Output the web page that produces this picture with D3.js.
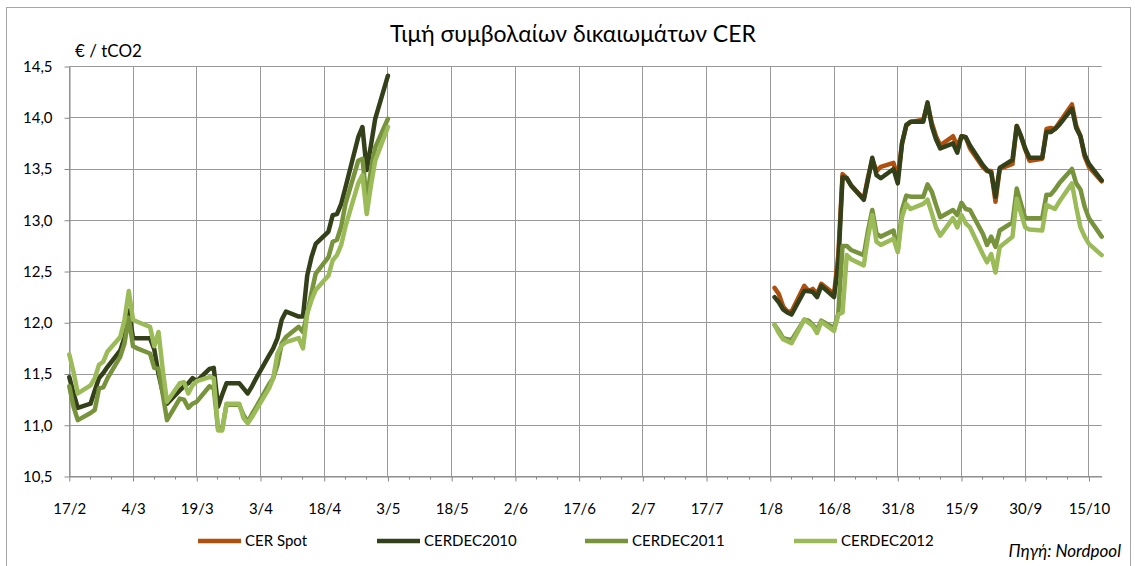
<!DOCTYPE html>
<html>
<head>
<meta charset="utf-8">
<script src="https://cdn.jsdelivr.net/npm/d3@7"></script>
<style>
  body { margin: 0; background: #fff; }
  svg text { font-family: Lato, "Open Sans", sans-serif; fill: #000; }
</style>
</head>
<body>
<div id="chart"></div>
<script>
// trading days, spring 2010
var dates1 = ["17/2","18/2","19/2","22/2","23/2","24/2","25/2","26/2",
  "1/3","2/3","3/3","4/3","5/3","8/3","9/3","10/3","11/3","12/3","15/3","16/3","17/3","18/3","19/3",
  "22/3","23/3","24/3","25/3","26/3","29/3","30/3","31/3",
  "1/4","2/4","5/4","6/4","7/4","8/4","9/4","12/4","13/4","14/4","15/4","16/4","19/4","20/4",
  "21/4","22/4","23/4","26/4","27/4","28/4","29/4","30/4","3/5"];

// trading days, late summer / autumn 2010
var dates2 = ["2/8","3/8","4/8","5/8","6/8","9/8","10/8","11/8","12/8","13/8","16/8","17/8","18/8",
  "19/8","20/8","23/8","24/8","25/8","26/8","27/8","30/8","31/8",
  "1/9","2/9","3/9","6/9","7/9","8/9","9/9","10/9","13/9","14/9","15/9","16/9","17/9","20/9",
  "21/9","22/9","23/9","24/9","27/9","28/9","29/9","30/9",
  "1/10","4/10","5/10","6/10","7/10","8/10","11/10","12/10","13/10","14/10","15/10","18/10"];

var dec10_1 = [11.47, 11.31, 11.17, 11.21, 11.34, 11.46, 11.51, 11.57,
  11.73, 11.86, 12.12, 11.85, 11.85, 11.85, 11.74, 11.50, 11.32, 11.21, 11.34, 11.38, 11.41, 11.46, 11.43,
  11.55, 11.56, 11.18, 11.30, 11.41, 11.41, 11.36, 11.31,
  11.38, 11.46, 11.68, 11.75, 11.85, 12.03, 12.11, 12.06, 12.06, 12.46, 12.64, 12.77, 12.89, 13.05,
  13.06, 13.16, 13.32, 13.81, 13.91, 13.49, 13.73, 13.99, 14.41];

var dec11_1 = [11.38, 11.18, 11.05, 11.12, 11.15, 11.36, 11.37, 11.46,
  11.67, 11.80, 12.05, 11.77, 11.75, 11.70, 11.56, 11.55, 11.30, 11.05, 11.26, 11.25, 11.17, 11.21, 11.23,
  11.38, 11.36, 10.97, 10.97, 11.20, 11.20, 11.10, 11.03,
  11.11, 11.18, 11.40, 11.46, 11.59, 11.80, 11.86, 11.96, 11.91, 12.09, 12.29, 12.48, 12.64, 12.79,
  12.81, 12.94, 13.16, 13.58, 13.60, 13.19, 13.49, 13.71, 13.99];

var dec12_1 = [11.69, 11.52, 11.31, 11.39, 11.46, 11.59, 11.62, 11.72,
  11.86, 12.03, 12.31, 12.03, 12.01, 11.96, 11.77, 11.91, 11.54, 11.23, 11.41, 11.42, 11.31, 11.39, 11.43,
  11.47, 11.46, 10.95, 10.95, 11.21, 11.21, 11.07, 11.02,
  11.08, 11.15, 11.36, 11.46, 11.70, 11.78, 11.81, 11.85, 11.75, 12.09, 12.22, 12.32, 12.46, 12.61,
  12.66, 12.76, 12.94, 13.36, 13.44, 13.06, 13.34, 13.58, 13.91];

var spot2 = [12.34, 12.28, 12.16, 12.11, 12.11, 12.36, 12.31, 12.33, 12.28, 12.38, 12.28, 12.66, 13.45,
  13.41, 13.34, 13.21, 13.42, 13.59, 13.48, 13.52, 13.56, 13.41,
  13.75, 13.92, 13.96, 13.98, 14.13, 13.95, 13.82, 13.73, 13.82, 13.72, 13.82, 13.81, 13.70, 13.52,
  13.48, 13.48, 13.18, 13.50, 13.55, 13.92, 13.82, 13.69,
  13.58, 13.60, 13.89, 13.90, 13.89, 13.95, 14.13, 13.92, 13.82, 13.62, 13.52, 13.38];

var dec10_2 = [12.25, 12.20, 12.13, 12.10, 12.08, 12.31, 12.31, 12.30, 12.25, 12.36, 12.25, 12.57, 13.42,
  13.41, 13.34, 13.20, 13.40, 13.61, 13.44, 13.41, 13.50, 13.36,
  13.75, 13.93, 13.96, 13.96, 14.15, 13.92, 13.79, 13.70, 13.75, 13.66, 13.82, 13.81, 13.73, 13.54,
  13.49, 13.46, 13.23, 13.51, 13.59, 13.92, 13.82, 13.70,
  13.61, 13.61, 13.86, 13.86, 13.89, 13.93, 14.09, 13.90, 13.82, 13.64, 13.55, 13.39];

var dec11_2 = [11.98, 11.92, 11.85, 11.84, 11.83, 12.03, 12.02, 11.98, 11.93, 12.02, 11.95, 12.09, 12.75,
  12.75, 12.71, 12.66, 12.90, 13.10, 12.87, 12.84, 12.90, 12.70,
  13.10, 13.24, 13.23, 13.23, 13.35, 13.28, 13.15, 13.03, 13.10, 13.05, 13.17, 13.11, 13.10, 12.87,
  12.76, 12.84, 12.74, 12.90, 12.98, 13.31, 13.16, 13.02,
  13.02, 13.02, 13.25, 13.25, 13.30, 13.36, 13.50, 13.36, 13.30, 13.13, 13.02, 12.84];

var dec12_2 = [11.98, 11.90, 11.84, 11.82, 11.80, 12.03, 12.00, 11.97, 11.90, 12.01, 11.92, 12.08, 12.10,
  12.66, 12.62, 12.56, 12.84, 13.05, 12.79, 12.76, 12.82, 12.69,
  13.03, 13.16, 13.11, 13.16, 13.20, 13.07, 12.93, 12.85, 13.02, 12.93, 13.05, 12.97, 12.93, 12.67,
  12.59, 12.67, 12.49, 12.74, 12.84, 13.21, 13.07, 12.93,
  12.91, 12.90, 13.15, 13.13, 13.11, 13.18, 13.36, 13.13, 12.93, 12.84, 12.77, 12.66];

var seriesNames = ["CER Spot", "CERDEC2010", "CERDEC2011", "CERDEC2012"];
var seriesColors = ["#B0500E", "#33401A", "#77933C", "#9BBB59"];
var yTicks = [10.5, 11, 11.5, 12, 12.5, 13, 13.5, 14, 14.5];

var parseDay = function(s) { return d3.timeParse("%d/%m/%Y")(s + "/2010"); };

var W = 1135, H = 566;
var plot = { left: 69.3, right: 1101.7, top: 66.5, bottom: 476.5 };

var svg = d3.select("#chart").append("svg")
    .attr("width", W)
    .attr("height", H);

svg.append("rect")
    .attr("x", 0).attr("y", 0).attr("width", W).attr("height", H)
    .attr("fill", "#fff");

// outer chart frame
svg.append("rect")
    .attr("x", 6.5).attr("y", 7.5)
    .attr("width", 1124).attr("height", 580)
    .attr("fill", "none")
    .attr("stroke", "#a6a6a6")
    .attr("stroke-width", 1);

var startDate = parseDay("17/2");
var x = d3.scaleTime()
    .domain([startDate, parseDay("18/10")])
    .range([plot.left, plot.right]);

var y = d3.scaleLinear()
    .domain([10.5, 14.5])
    .range([plot.bottom, plot.top]);

// ticks every 15 days, minor every 5
var majorDates = d3.range(0, 241, 15).map(function(d) { return d3.timeDay.offset(startDate, d); });
var minorDates = d3.range(0, 244, 5).filter(function(d) { return d % 15 !== 0; })
    .map(function(d) { return d3.timeDay.offset(startDate, d); });

var crisp = function(v) { return Math.round(v - 0.5) + 0.5; };

// gridlines
svg.append("g").selectAll("line.hgrid")
    .data(yTicks)
    .enter().append("line")
    .attr("class", "hgrid")
    .attr("x1", plot.left).attr("x2", plot.right)
    .attr("y1", function(d) { return crisp(y(d)); })
    .attr("y2", function(d) { return crisp(y(d)); })
    .attr("stroke", "#999")
    .attr("stroke-width", 1);

svg.append("g").selectAll("line.vgrid")
    .data(majorDates)
    .enter().append("line")
    .attr("class", "vgrid")
    .attr("x1", function(d) { return crisp(x(d)); })
    .attr("x2", function(d) { return crisp(x(d)); })
    .attr("y1", y(14.5)).attr("y2", y(10.5))
    .attr("stroke", "#999")
    .attr("stroke-width", 1);

// axes
var xAxis = d3.axisBottom(x)
    .tickValues(majorDates)
    .tickSize(5)
    .tickSizeOuter(0)
    .tickPadding(22)
    .tickFormat(d3.timeFormat("%-d/%-m"));

var gx = svg.append("g")
    .attr("transform", "translate(0," + crisp(plot.bottom) + ")")
    .call(xAxis);

gx.selectAll(".tick line").attr("stroke", "#888");
gx.select(".domain").attr("stroke", "#888");
gx.selectAll("text").attr("font-size", 15).style("font-family", "Lato, 'Open Sans', sans-serif");

gx.selectAll("line.minor")
    .data(minorDates)
    .enter().append("line")
    .attr("class", "minor")
    .attr("x1", function(d) { return crisp(x(d)); })
    .attr("x2", function(d) { return crisp(x(d)); })
    .attr("y1", 0).attr("y2", 3)
    .attr("stroke", "#888");

var yAxis = d3.axisLeft(y)
    .tickValues(yTicks)
    .tickSize(5)
    .tickSizeOuter(0)
    .tickPadding(12)
    .tickFormat(function(d) { return d3.format(".1f")(d).replace(".", ","); });

var gy = svg.append("g")
    .attr("transform", "translate(" + crisp(plot.left) + ",0)")
    .call(yAxis);

gy.selectAll(".tick line").attr("stroke", "#888");
gy.select(".domain").attr("stroke", "#888");
gy.selectAll("text").attr("font-size", 15).style("font-family", "Lato, 'Open Sans', sans-serif");

// lines
var line = d3.line()
    .x(function(d) { return x(d.date); })
    .y(function(d) { return y(d.v); });

function toPoints(dates, values) {
    return dates.map(function(s, i) { return { date: parseDay(s), v: values[i] }; });
}

var segments = [
    [null, spot2],
    [dec10_1, dec10_2],
    [dec11_1, dec11_2],
    [dec12_1, dec12_2]
];

var gLines = svg.append("g");
segments.forEach(function(seg, i) {
    [[dates1, seg[0]], [dates2, seg[1]]].forEach(function(part) {
        if (!part[1]) return;
        gLines.append("path")
            .attr("d", line(toPoints(part[0], part[1])))
            .attr("fill", "none")
            .attr("stroke", seriesColors[i])
            .attr("stroke-width", 4.5)
            .attr("stroke-linejoin", "round")
            .attr("stroke-linecap", "round");
    });
});

// title and labels
svg.append("text")
    .attr("x", 573).attr("y", 42)
    .attr("text-anchor", "middle")
    .attr("font-size", 23)
    .text("Τιμή συμβολαίων δικαιωμάτων CER");

svg.append("text")
    .attr("x", 75).attr("y", 57)
    .attr("font-size", 17)
    .text("€ / tCO2");

svg.append("text")
    .attr("x", 1121).attr("y", 557)
    .attr("text-anchor", "end")
    .attr("font-size", 17)
    .attr("font-style", "italic")
    .text("Πηγή: Nordpool");

// legend
var legendX = [198, 377, 585, 794];
var legend = svg.append("g").selectAll("g")
    .data(seriesNames)
    .enter().append("g")
    .attr("transform", function(d, i) { return "translate(" + legendX[i] + ",541)"; });

legend.append("line")
    .attr("x1", 0).attr("x2", 43)
    .attr("y1", 0).attr("y2", 0)
    .attr("stroke", function(d, i) { return seriesColors[i]; })
    .attr("stroke-width", 4.5);

legend.append("text")
    .attr("x", 47).attr("y", 5)
    .attr("font-size", 15)
    .text(function(d) { return d; });
</script>
</body>
</html>
